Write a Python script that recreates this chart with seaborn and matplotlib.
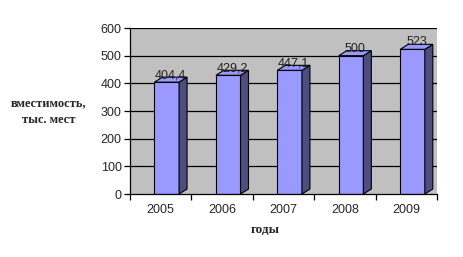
import matplotlib
matplotlib.use("Agg")
import matplotlib.pyplot as plt
import seaborn as sns
import pandas as pd
from matplotlib.patches import Polygon

years = ["2005", "2006", "2007", "2008", "2009"]
values = [404.4, 429.2, 447.1, 500, 523]
value_labels = ["404,4", "429,2", "447,1", "500", "523"]
y_ticks = [0, 100, 200, 300, 400, 500, 600]

sns.set_theme(style="white")
plt.rcParams['font.family'] = ['Liberation Sans', 'DejaVu Sans']

df = pd.DataFrame({"year": years, "value": values})

fig = plt.figure(figsize=(4.64, 2.57), dpi=100)
ax = fig.add_axes([0.280, 0.245, 0.662, 0.646])
ax.set_facecolor("#C0C0C0")

for t in y_ticks[1:]:
    ax.axhline(t, color="black", lw=0.9, zorder=0.5)

sns.barplot(data=df, x="year", y="value", ax=ax, color="#9999FF",
            width=0.4, edgecolor="black", linewidth=0.8, saturation=1, zorder=2)

dx, dy = 0.13, 18
for p, lab in zip(ax.patches, value_labels):
    p.set_x(p.get_x() + 0.1)
    x0, w, h = p.get_x(), p.get_width(), p.get_height()
    side = Polygon([[x0 + w, 0], [x0 + w + dx, dy], [x0 + w + dx, h + dy], [x0 + w, h]],
                   closed=True, facecolor="#4D4D80", edgecolor="black", lw=0.8, zorder=2)
    top = Polygon([[x0, h], [x0 + dx, h + dy], [x0 + w + dx, h + dy], [x0 + w, h]],
                  closed=True, facecolor="#9999FF", edgecolor="black", lw=0.8, zorder=2)
    ax.add_patch(side)
    ax.add_patch(top)
    ax.text(x0 + (w + dx) / 2, h + dy - 14, lab, ha="center", va="bottom",
            fontsize=9, color="#222222", zorder=3)

ax.set_xlim(-0.5, 4.5)
ax.set_ylim(0, 600)
ax.set_yticks(y_ticks)
ax.set_yticklabels([str(t) for t in y_ticks], fontsize=9)
ax.set_xticks(range(5))
ax.set_xticklabels(years, fontsize=9)
ax.set_xticks([-0.5 + i for i in range(6)], minor=True)
ax.tick_params(axis="x", which="major", length=0, pad=7)
ax.tick_params(axis="x", which="minor", length=4, width=0.9, color="black", direction="out", bottom=True)
ax.tick_params(axis="y", length=4, width=0.9, color="black", direction="out", left=True, pad=2)

for s in ["top", "right"]:
    ax.spines[s].set_visible(False)
for s in ["left", "bottom"]:
    ax.spines[s].set_color("black")
    ax.spines[s].set_linewidth(0.9)

ax.set_xlabel("")
ax.set_ylabel("")

fig.text(0.104, 0.565, "вместимость,\nтыс. мест", ha="center", va="center",
         fontsize=9, fontweight="bold", family=["Liberation Serif", "DejaVu Serif"],
         linespacing=1.5)
fig.text(0.571, 0.105, "годы", ha="center", va="center",
         fontsize=9.5, fontweight="bold", family=["Liberation Serif", "DejaVu Serif"])

fig.savefig("out.png", dpi=100)
